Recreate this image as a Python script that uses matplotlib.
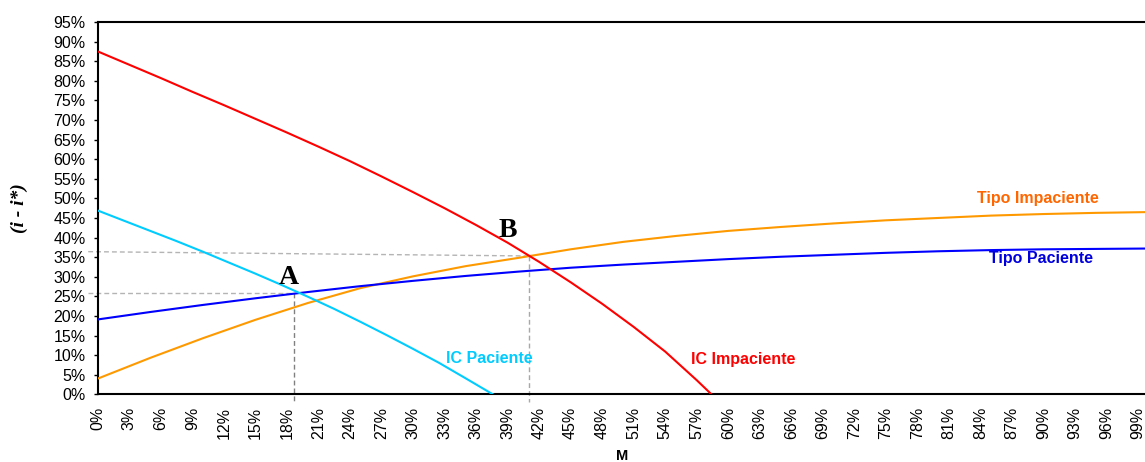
import matplotlib
matplotlib.use("Agg")
import matplotlib.pyplot as plt

# ---------------- data ----------------
m_grid = [0, 5, 10, 15, 20, 25, 30, 35, 40, 45, 50,
          55, 60, 65, 70, 75, 80, 85, 90, 95, 100]
tipo_paciente = [19.1, 21.0, 22.8, 24.5, 26.1, 27.6, 28.95, 30.2, 31.3, 32.3, 33.1,
                 33.8, 34.5, 35.1, 35.6, 36.1, 36.5, 36.8, 37.0, 37.1, 37.2]
tipo_impaciente = [4.0, 9.3, 14.3, 19.0, 23.3, 27.1, 30.1, 32.7, 34.8, 37.0, 38.9,
                   40.4, 41.7, 42.7, 43.6, 44.4, 45.0, 45.6, 46.0, 46.3, 46.5]
ic_paciente_m = [0, 2.5, 5, 7.5, 10, 12.5, 15, 17.5, 20, 22.5, 25, 27.5,
                 30, 32.5, 35, 37.6]
ic_paciente = [46.9, 44.3, 41.7, 39.1, 36.4, 33.6, 30.8, 27.9, 24.9, 21.8, 18.5, 15.1,
               11.6, 8.0, 4.1, 0.0]
ic_impaciente_m = [0, 3, 6, 9, 12, 15, 18, 21, 24, 27, 30, 33, 36, 39, 42, 45,
                   48, 51, 54, 57, 58.4]
ic_impaciente = [87.5, 84.1, 80.7, 77.2, 73.8, 70.3, 66.8, 63.2, 59.5, 55.6, 51.6,
                 47.5, 43.2, 38.7, 33.8, 28.6, 23.1, 17.2, 10.9, 3.6, 0.0]

point_a = (18.7, 25.9)
point_b = (41.0, 35.3)

x_ticks = list(range(0, 100, 3))
y_ticks = list(range(0, 100, 5))
x_tick_labels = [f"{v}%" for v in x_ticks]
y_tick_labels = [f"{v}%" for v in y_ticks]

# ---------------- figure ----------------
plt.rcParams["font.family"] = ["Liberation Sans", "DejaVu Sans"]
fig = plt.figure(figsize=(11.45, 4.62), dpi=100)
ax = fig.add_axes([0.0853, 0.1465, 0.9147, 0.8059])

ax.set_xlim(0, 99.65)
ax.set_ylim(0, 95)

lw = 1.5
ax.plot(m_grid, tipo_impaciente, color="#FF9900", lw=lw, zorder=3)
ax.plot(m_grid, tipo_paciente, color="#0000FF", lw=lw, zorder=3)
ax.plot(ic_paciente_m, ic_paciente, color="#00CCFF", lw=lw, zorder=3)
ax.plot(ic_impaciente_m, ic_impaciente, color="#FF0000", lw=lw, zorder=3)

# dashed guide lines
dash = (0, (3.5, 2.2))
ax.plot([-0.9, point_a[0]], [point_a[1], point_a[1]], color="#B4B4B4", lw=1,
        linestyle=dash, clip_on=False, zorder=2)
ax.plot([-0.9, point_b[0]], [36.4, point_b[1]], color="#B4B4B4", lw=1,
        linestyle=dash, clip_on=False, zorder=2)
ax.plot([point_a[0], point_a[0]], [point_a[1], -2.0], color="#808080", lw=1,
        linestyle=dash, clip_on=False, zorder=2)
ax.plot([point_b[0], point_b[0]], [point_b[1], -2.0], color="#A8A8A8", lw=1,
        linestyle=dash, clip_on=False, zorder=2)

# point letters
ax.text(18.2, 29.8, "A", fontsize=20, fontweight="bold", family="Liberation Serif",
        ha="center", va="center", zorder=4)
ax.text(39.0, 41.9, "B", fontsize=20, fontweight="bold", family="Liberation Serif",
        ha="center", va="center", zorder=4)

# series labels
ax.text(89.5, 50.0, "Tipo Impaciente", color="#FF6600", fontsize=11.5,
        fontweight="bold", ha="center", va="center")
ax.text(89.8, 34.7, "Tipo Paciente", color="#0000DD", fontsize=11.5,
        fontweight="bold", ha="center", va="center")
ax.text(37.3, 9.1, "IC Paciente", color="#00CCFF", fontsize=11.5,
        fontweight="bold", ha="center", va="center")
ax.text(61.4, 9.0, "IC Impaciente", color="#FF0000", fontsize=11.5,
        fontweight="bold", ha="center", va="center")

# axes styling
for side in ("left", "bottom", "top"):
    ax.spines[side].set_linewidth(1.5)
    ax.spines[side].set_color("black")
ax.spines["right"].set_visible(False)

ax.set_xticks(x_ticks)
ax.set_xticklabels(x_tick_labels, rotation=90, fontsize=11.5)
ax.set_yticks(y_ticks)
ax.set_yticklabels(y_tick_labels, fontsize=11.5)
ax.tick_params(axis="x", length=0, pad=9)
ax.tick_params(axis="y", length=3.2, width=1, pad=5.5, direction="out")

fig.text(622 / 1145, 1 - 456 / 462, "M", fontsize=10.5, fontweight="bold",
         ha="center", va="center")
fig.text(19 / 1145, 1 - 208 / 462, "(i - i*)", fontsize=14, fontweight="bold",
         style="italic", family="Liberation Serif", rotation=90,
         ha="center", va="center")

fig.savefig("out.png", dpi=100)
